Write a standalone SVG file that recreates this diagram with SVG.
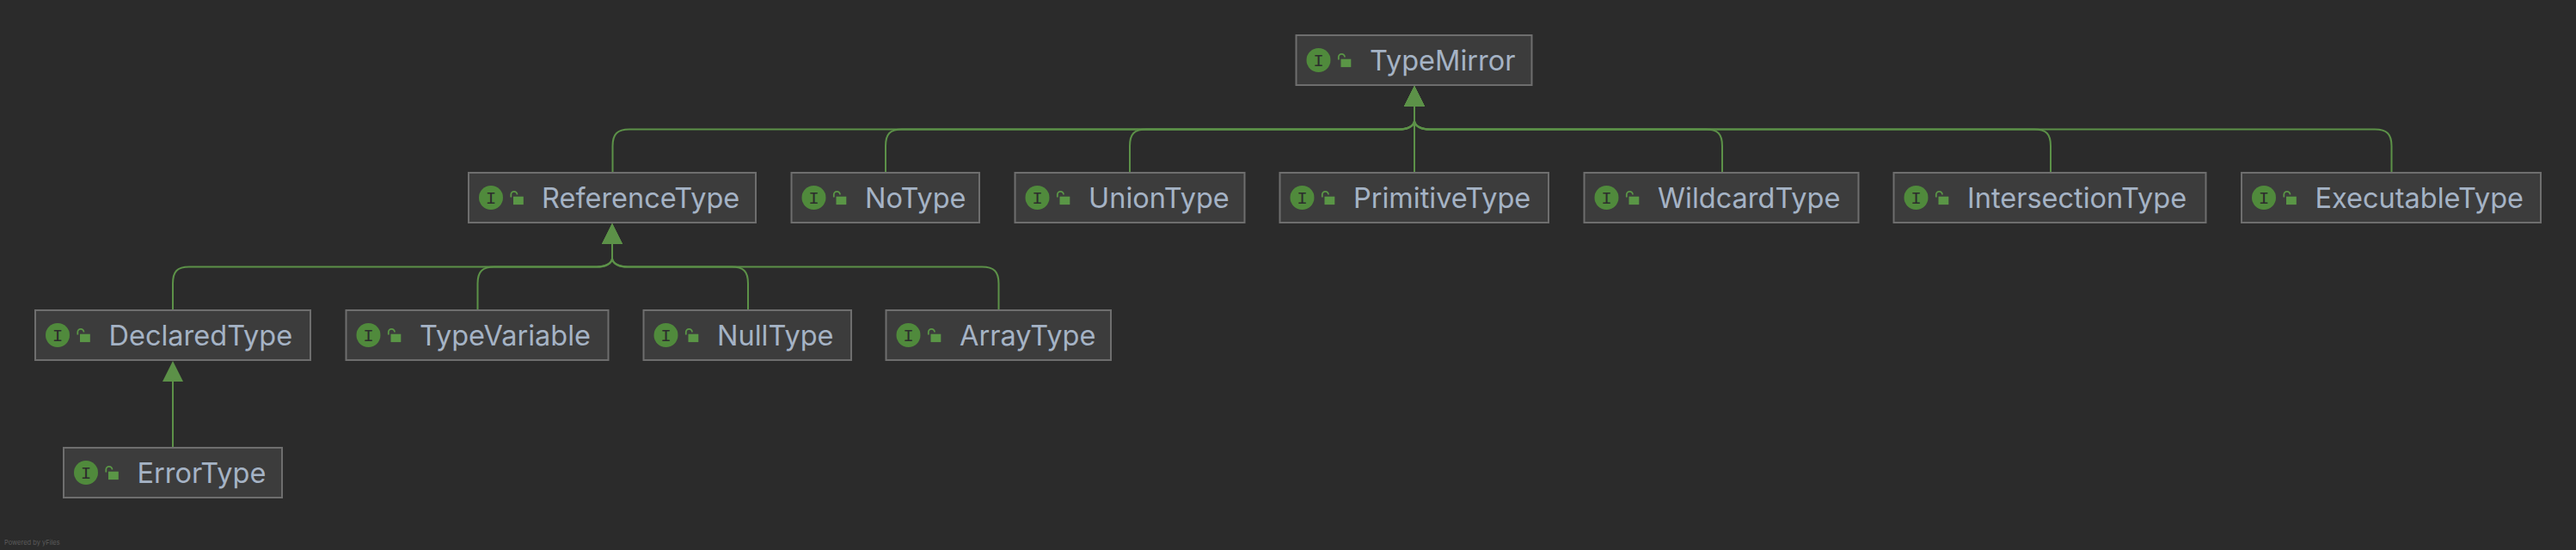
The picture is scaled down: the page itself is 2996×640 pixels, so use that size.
<svg xmlns="http://www.w3.org/2000/svg" xmlns:xlink="http://www.w3.org/1999/xlink" width="2996" height="640" viewBox="0 0 2996 640">
<style>
.box{fill:#3c3c3c;stroke:#6e6e6e;stroke-width:2}
.lbl{font-family:"Inter","Liberation Sans",sans-serif;font-size:32.500px;fill:#a5b3c5}
.edge{fill:none;stroke:#5c9148;stroke-width:2;marker-end:url(#tri)}
.ic{font-family:"Liberation Mono",monospace;font-size:21px;fill:#2d2d2d;text-anchor:middle}
.foot{font-family:"Inter","Liberation Sans",sans-serif;font-size:7.500px;fill:#5c5c5c}
</style>
<defs>
<marker id="tri" markerUnits="userSpaceOnUse" markerWidth="26" markerHeight="26" viewBox="0 0 26 26" refX="1" refY="13" orient="auto"><path d="M1 1L25 13L1 25Z" fill="#5c9148"/></marker>
<g id="badge">
<circle cx="26" cy="29" r="14" fill="#508a3c"/>
<path d="M52 27.700h11.800v9.400h-11.800z" fill="#5a9646"/>
<path d="M49.300 28.500v-3a3.600 3.600 0 0 1 7.200 0" fill="none" stroke="#5a9646" stroke-width="1.800"/>
</g>
</defs>
<rect width="2996" height="640" fill="#2b2b2b"/>
<g id="connectors">
<path class="edge" d="M712.500 200V170C712.500 156 718 150.500 732 150.500H1627C1637 150.500 1644 147 1645 141V124"/>
<path class="edge" d="M1030 200V170C1030 156 1035 150.500 1049 150.500H1627C1637 150.500 1644 147 1645 141V124"/>
<path class="edge" d="M1314 200V170C1314 156 1319 150.500 1333 150.500H1627C1637 150.500 1644 147 1645 141V124"/>
<path class="edge" d="M1645 200V124"/>
<path class="edge" d="M2003 200V170C2003 156 1998 150.500 1984 150.500H1663C1653 150.500 1646 147 1645 141V124"/>
<path class="edge" d="M2385 200V170C2385 156 2380 150.500 2366 150.500H1663C1653 150.500 1646 147 1645 141V124"/>
<path class="edge" d="M2781.500 200V170C2781.500 156 2776 150.500 2762 150.500H1663C1653 150.500 1646 147 1645 141V124"/>
<path class="edge" d="M201 360V330C201 316 206 310.500 220 310.500H694C704 310.500 711 307 712 301V284"/>
<path class="edge" d="M555.500 360V330C555.500 316 561 310.500 575 310.500H694C704 310.500 711 307 712 301V284"/>
<path class="edge" d="M870 360V330C870 316 865 310.500 851 310.500H730C720 310.500 713 307 712 301V284"/>
<path class="edge" d="M1161.500 360V330C1161.500 316 1156 310.500 1142 310.500H730C720 310.500 713 307 712 301V284"/>
<path class="edge" d="M201 520V444"/>
</g>
<g id="TypeMirror"><rect class="box" x="1507.500" y="41" width="274" height="58"/><use xlink:href="#badge" href="#badge" x="1507.500" y="41"/><text class="ic" x="1533.500" y="77">I</text><text class="lbl" x="1593" y="82">TypeMirror</text></g>
<g id="ReferenceType"><rect class="box" x="545" y="201" width="334" height="58"/><use href="#badge" x="545" y="201"/><text class="ic" x="571" y="237">I</text><text class="lbl" x="630" y="242">ReferenceType</text></g>
<g id="NoType"><rect class="box" x="920.500" y="201" width="218.500" height="58"/><use href="#badge" x="920.500" y="201"/><text class="ic" x="946.500" y="237">I</text><text class="lbl" x="1006" y="242">NoType</text></g>
<g id="UnionType"><rect class="box" x="1180.500" y="201" width="267" height="58"/><use href="#badge" x="1180.500" y="201"/><text class="ic" x="1206.500" y="237">I</text><text class="lbl" x="1266" y="242">UnionType</text></g>
<g id="PrimitiveType"><rect class="box" x="1488.500" y="201" width="312.500" height="58"/><use href="#badge" x="1488.500" y="201"/><text class="ic" x="1514.500" y="237">I</text><text class="lbl" x="1574" y="242">PrimitiveType</text></g>
<g id="WildcardType"><rect class="box" x="1842.500" y="201" width="319" height="58"/><use href="#badge" x="1842.500" y="201"/><text class="ic" x="1868.500" y="237">I</text><text class="lbl" x="1928" y="242">WildcardType</text></g>
<g id="IntersectionType"><rect class="box" x="2202.500" y="201" width="363" height="58"/><use href="#badge" x="2202.500" y="201"/><text class="ic" x="2228.500" y="237">I</text><text class="lbl" x="2288" y="242">IntersectionType</text></g>
<g id="ExecutableType"><rect class="box" x="2607" y="201" width="348" height="58"/><use href="#badge" x="2607" y="201"/><text class="ic" x="2633" y="237">I</text><text class="lbl" x="2692.500" y="242">ExecutableType</text></g>
<g id="DeclaredType"><rect class="box" x="41" y="361" width="320" height="58"/><use href="#badge" x="41" y="361"/><text class="ic" x="67" y="397">I</text><text class="lbl" x="126.500" y="402">DeclaredType</text></g>
<g id="TypeVariable"><rect class="box" x="402.500" y="361" width="305" height="58"/><use href="#badge" x="402.500" y="361"/><text class="ic" x="428.500" y="397">I</text><text class="lbl" x="488" y="402">TypeVariable</text></g>
<g id="NullType"><rect class="box" x="748.500" y="361" width="241.500" height="58"/><use href="#badge" x="748.500" y="361"/><text class="ic" x="774.500" y="397">I</text><text class="lbl" x="834" y="402">NullType</text></g>
<g id="ArrayType"><rect class="box" x="1030.500" y="361" width="261.500" height="58"/><use href="#badge" x="1030.500" y="361"/><text class="ic" x="1056.500" y="397">I</text><text class="lbl" x="1116" y="402">ArrayType</text></g>
<g id="ErrorType"><rect class="box" x="74" y="521" width="254" height="58"/><use href="#badge" x="74" y="521"/><text class="ic" x="100" y="557">I</text><text class="lbl" x="159.500" y="562">ErrorType</text></g>
<text class="foot" x="5" y="634">Powered by yFiles</text>
</svg>
